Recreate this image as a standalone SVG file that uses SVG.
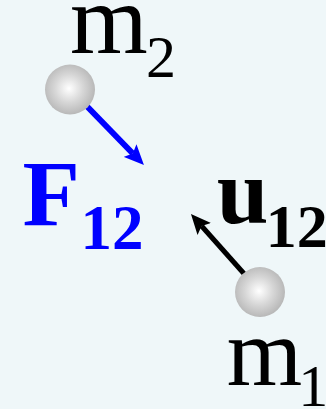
<svg xmlns="http://www.w3.org/2000/svg" width="326" height="409" viewBox="0 0 326 409">
  <defs>
    <radialGradient id="ballGrad" cx="0.48" cy="0.48" r="0.52">
      <stop offset="0" stop-color="#ffffff"/>
      <stop offset="0.55" stop-color="#d6d6d6"/>
      <stop offset="1" stop-color="#b8b8b8"/>
    </radialGradient>
    <marker id="headBlue" markerUnits="userSpaceOnUse" viewBox="0 0 20 18" refX="4" refY="9" markerWidth="20" markerHeight="18" orient="auto">
      <path d="M0,0 L20,9 L0,18 L4,9 z" fill="#0000ff"/>
    </marker>
    <marker id="headBlack" markerUnits="userSpaceOnUse" viewBox="0 0 20 18" refX="4" refY="9" markerWidth="20" markerHeight="18" orient="auto">
      <path d="M0,0 L20,9 L0,18 L4,9 z" fill="#000000"/>
    </marker>
  </defs>
  <style>
    .ball { fill: url(#ballGrad); }
    .lbl { font-family: "Liberation Serif", "Times New Roman", serif; }
    .bold { font-weight: bold; }
  </style>
  <rect x="0" y="0" width="326" height="409" fill="#eff7f9"/>

  <g id="connectors">
    <line id="F12-arrow" x1="75" y1="94" x2="132.8" y2="153.5" stroke="#0000ff" stroke-width="6" marker-end="url(#headBlue)"/>
    <line id="u12-arrow" x1="255" y1="286" x2="201.6" y2="226" stroke="#000000" stroke-width="5" marker-end="url(#headBlack)"/>
  </g>

  <g id="m2">
    <circle class="ball" cx="70" cy="89.5" r="25"/>
    <text class="lbl" fill="#000000"><tspan x="70" y="53" font-size="100">m</tspan><tspan x="146" y="77" font-size="60">2</tspan></text>
  </g>

  <g id="m1">
    <circle class="ball" cx="260" cy="292" r="25"/>
    <text class="lbl" fill="#000000"><tspan x="226.7" y="385" font-size="97">m</tspan><tspan x="298.3" y="406" font-size="60">1</tspan></text>
  </g>

  <g id="F12">
    <text class="lbl bold" fill="#0000ff"><tspan x="22.5" y="225" font-size="94">F</tspan><tspan x="80.6" y="249" font-size="63">12</tspan></text>
  </g>

  <g id="u12">
    <text class="lbl bold" fill="#000000"><tspan x="216.7" y="223" font-size="93">u</tspan><tspan x="265.7" y="247" font-size="62">12</tspan></text>
  </g>
</svg>
